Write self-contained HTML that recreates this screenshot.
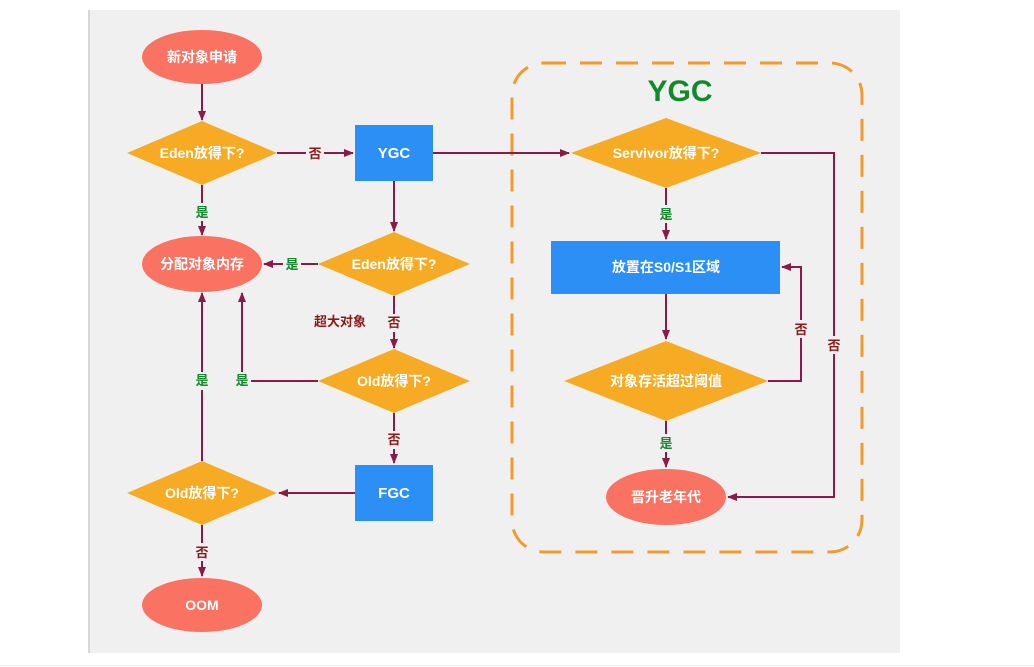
<!DOCTYPE html>
<html><head><meta charset="utf-8"><style>
html,body{margin:0;padding:0;background:#fff;width:1034px;height:667px;overflow:hidden}
svg{display:block}
text{font-family:"Liberation Sans","Noto Sans CJK SC",sans-serif;font-weight:bold}
</style></head><body>
<svg width="1034" height="667" viewBox="0 0 1034 667" xmlns="http://www.w3.org/2000/svg">
<defs>
<marker id="a" markerWidth="10" markerHeight="10" refX="9" refY="5" orient="auto" markerUnits="userSpaceOnUse">
<path d="M0,1 L10,5 L0,9 Z" fill="#8b1a4a"/></marker>
</defs>
<rect x="88" y="10" width="812" height="643" fill="#f0f0f0"/>
<line x1="89" y1="10" x2="89" y2="653" stroke="#d8d8d8" stroke-width="2"/>
<line x1="0" y1="665.5" x2="1034" y2="665.5" stroke="#ececf4" stroke-width="1"/>
<rect x="512" y="63" width="350" height="489" rx="32" fill="none" stroke="#f39a2c" stroke-width="3" stroke-dasharray="22,14"/>
<text x="680" y="101" font-size="30" fill="#118a2a" text-anchor="middle">YGC</text>
<g stroke="#8b1a4a" stroke-width="2" fill="none">
<line x1="202" y1="84" x2="202" y2="120" marker-end="url(#a)"/>
<line x1="277" y1="153" x2="353" y2="153" marker-end="url(#a)"/>
<line x1="202" y1="185" x2="202" y2="235" marker-end="url(#a)"/>
<line x1="394" y1="181" x2="394" y2="231" marker-end="url(#a)"/>
<line x1="318" y1="264" x2="264" y2="264" marker-end="url(#a)"/>
<line x1="394" y1="296" x2="394" y2="348" marker-end="url(#a)"/>
<polyline points="318,381 242,381 242,293" marker-end="url(#a)"/>
<line x1="394" y1="413" x2="394" y2="463" marker-end="url(#a)"/>
<line x1="355" y1="493" x2="279" y2="493" marker-end="url(#a)"/>
<line x1="202" y1="461" x2="202" y2="293" marker-end="url(#a)"/>
<line x1="202" y1="525" x2="202" y2="576" marker-end="url(#a)"/>
<line x1="433" y1="153" x2="569" y2="153" marker-end="url(#a)"/>
<line x1="666" y1="188" x2="666" y2="239" marker-end="url(#a)"/>
<line x1="666" y1="294" x2="666" y2="339" marker-end="url(#a)"/>
<polyline points="768,381 801,381 801,267 782,267" marker-end="url(#a)"/>
<line x1="666" y1="421" x2="666" y2="467" marker-end="url(#a)"/>
<polyline points="761,153 834,153 834,497 728,497" marker-end="url(#a)"/>
</g>
<g font-size="13" text-anchor="middle">
<rect x="306" y="144" width="18" height="18" fill="#f0f0f0"/><text x="315" y="158" fill="#8b1a1a">否</text>
<rect x="193" y="203" width="18" height="18" fill="#f0f0f0"/><text x="202" y="217" fill="#118a2a">是</text>
<rect x="283" y="255" width="18" height="18" fill="#f0f0f0"/><text x="292" y="269" fill="#118a2a">是</text>
<text x="340" y="326" fill="#8b1a1a">超大对象</text>
<rect x="386" y="314" width="18" height="18" fill="#f0f0f0"/><text x="394" y="327" fill="#8b1a1a">否</text>
<rect x="193" y="372" width="18" height="18" fill="#f0f0f0"/><text x="202" y="385" fill="#118a2a">是</text>
<rect x="233" y="372" width="18" height="18" fill="#f0f0f0"/><text x="242" y="385" fill="#118a2a">是</text>
<rect x="386" y="431" width="18" height="18" fill="#f0f0f0"/><text x="394" y="444" fill="#8b1a1a">否</text>
<rect x="193" y="543" width="18" height="18" fill="#f0f0f0"/><text x="202" y="557" fill="#8b1a1a">否</text>
<rect x="657" y="205" width="18" height="18" fill="#f0f0f0"/><text x="666" y="219" fill="#118a2a">是</text>
<rect x="792" y="320" width="18" height="18" fill="#f0f0f0"/><text x="801" y="334" fill="#8b1a1a">否</text>
<rect x="825" y="336" width="18" height="18" fill="#f0f0f0"/><text x="834" y="350" fill="#8b1a1a">否</text>
<rect x="657" y="434" width="18" height="18" fill="#f0f0f0"/><text x="666" y="448" fill="#118a2a">是</text>
</g>
<g fill="#fa7262">
<ellipse cx="202" cy="57" rx="60" ry="27"/>
<ellipse cx="202" cy="264" rx="60" ry="28"/>
<ellipse cx="202" cy="605" rx="60" ry="27"/>
<ellipse cx="666" cy="497" rx="60" ry="28"/>
</g>
<g fill="#f7ab25">
<polygon points="127,153 202,121 277,153 202,185"/>
<polygon points="318,264 394,232 470,264 394,296"/>
<polygon points="318,381 394,349 470,381 394,413"/>
<polygon points="127,493 202,461 277,493 202,525"/>
<polygon points="571,153 666,118 761,153 666,188"/>
<polygon points="564,381 666,341 768,381 666,421"/>
</g>
<g fill="#2b8ff5">
<rect x="355" y="125" width="78" height="56"/>
<rect x="355" y="465" width="78" height="56"/>
<rect x="551" y="241" width="229" height="53"/>
</g>
<g fill="#fff" font-size="14" text-anchor="middle">
<text x="202" y="62">新对象申请</text>
<text x="202" y="158">Eden放得下?</text>
<text x="394" y="158" font-size="15">YGC</text>
<text x="202" y="269">分配对象内存</text>
<text x="394" y="269">Eden放得下?</text>
<text x="394" y="386">Old放得下?</text>
<text x="394" y="498" font-size="15">FGC</text>
<text x="202" y="498">Old放得下?</text>
<text x="202" y="610">OOM</text>
<text x="666" y="158">Servivor放得下?</text>
<text x="666" y="272">放置在S0/S1区域</text>
<text x="666" y="386">对象存活超过阈值</text>
<text x="666" y="502">晋升老年代</text>
</g>
</svg>
</body></html>
